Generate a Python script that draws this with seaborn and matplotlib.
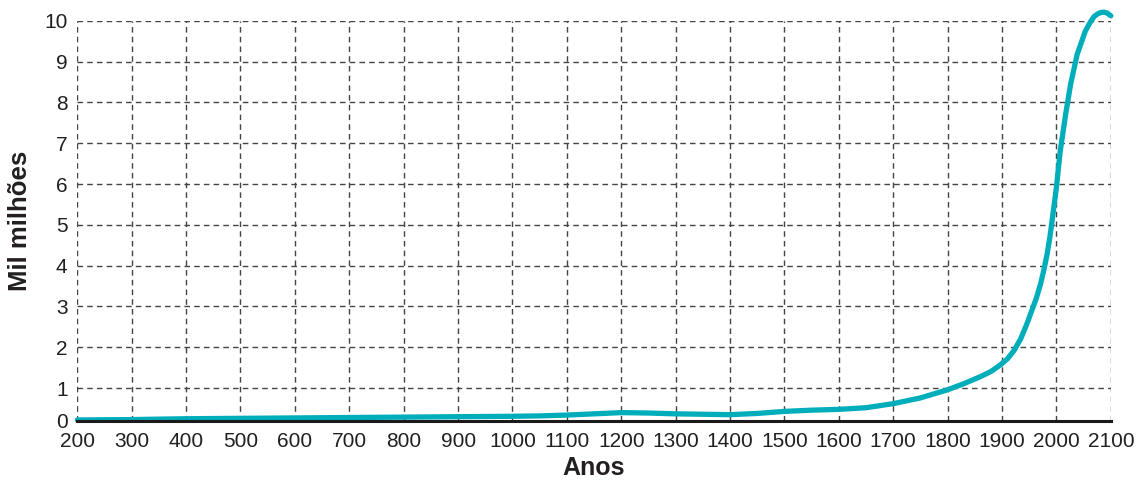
import matplotlib
matplotlib.use("Agg")
import matplotlib.pyplot as plt
import seaborn as sns
import pandas as pd

years = [200, 300, 400, 500, 600, 700, 800, 900, 1000, 1050, 1100, 1150, 1200, 1250, 1300,
         1350, 1400, 1450, 1500, 1550, 1600, 1650, 1700, 1750, 1800, 1830, 1860, 1880, 1897,
         1910, 1922, 1934, 1945, 1955, 1963, 1971, 1977, 1983, 1988, 1992, 2000, 2007, 2017, 2026,
         2038, 2053, 2062, 2069, 2075, 2081, 2087, 2093, 2100]
population = [0.22, 0.23, 0.25, 0.26, 0.27, 0.28, 0.29, 0.30, 0.31, 0.32, 0.34, 0.37, 0.40, 0.39, 0.37,
              0.36, 0.35, 0.38, 0.43, 0.46, 0.48, 0.52, 0.62, 0.76, 0.96, 1.11, 1.28, 1.41, 1.57,
              1.72, 1.92, 2.20, 2.55, 2.91, 3.20, 3.56, 3.90, 4.29, 4.70, 5.10, 5.92, 6.81, 7.71, 8.44,
              9.17, 9.74, 9.96, 10.10, 10.16, 10.20, 10.21, 10.19, 10.12]
x_ticks = list(range(200, 2101, 100))
y_ticks = [0.2, 1, 2, 3, 4, 5, 6, 7, 8, 9, 10]
y_tick_labels = ["0", "1", "2", "3", "4", "5", "6", "7", "8", "9", "10"]

df = pd.DataFrame({"Anos": years, "Mil milhões": population})

sns.set_theme(style="white")
plt.rcParams['font.family'] = ['Liberation Sans', 'DejaVu Sans']

fig = plt.figure(figsize=(11.42, 4.82), dpi=100)
ax = fig.add_axes([0.0677, 0.127, 0.905, 0.830])

ax.set_xlim(200, 2100)
ax.set_ylim(0.2, 10)
ax.set_xticks(x_ticks)
ax.set_xticklabels([str(t) for t in x_ticks])
ax.set_yticks(y_ticks)
ax.set_yticklabels(y_tick_labels)

ax.grid(True, linestyle=(0, (4, 3)), color="#444444", linewidth=1.0)
ax.set_axisbelow(True)
for s in ["left", "right", "top"]:
    ax.spines[s].set_visible(False)
ax.spines["bottom"].set_color("#1a1a1a")
ax.spines["bottom"].set_linewidth(2.2)
ax.spines["bottom"].set_zorder(5)

sns.lineplot(data=df, x="Anos", y="Mil milhões", ax=ax, color="#00AEBB",
             linewidth=3.8, zorder=4)
for ln in ax.lines:
    ln.set_clip_on(False)
    ln.set_solid_capstyle("round")
    ln.set_solid_joinstyle("round")

ax.tick_params(axis="both", length=0, labelsize=15, colors="#231f20")
ax.tick_params(axis="x", pad=8)
ax.tick_params(axis="y", pad=7)
ax.set_xlabel("Anos", fontsize=18, fontweight="bold", color="#231f20", labelpad=4)
ax.set_ylabel("Mil milhões", fontsize=18.5, fontweight="bold", color="#231f20", labelpad=9)

fig.savefig("out.png", dpi=100)
